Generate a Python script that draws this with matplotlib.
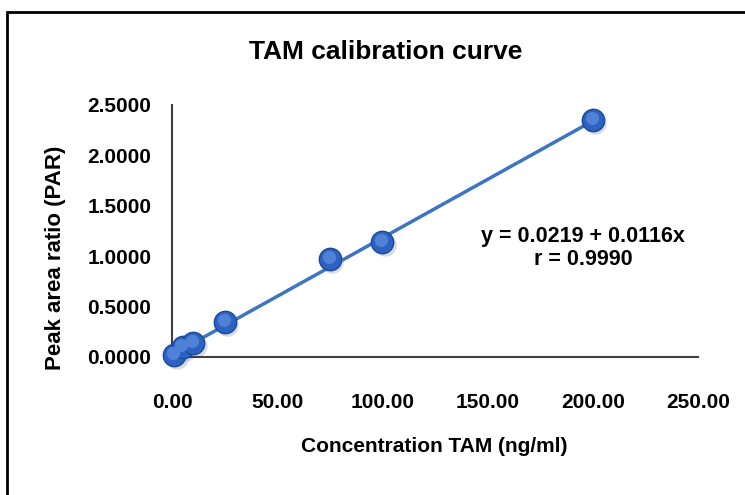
import matplotlib
matplotlib.use("Agg")
import matplotlib.pyplot as plt
from matplotlib.patches import Rectangle

# calibration points
conc = [1, 5, 10, 25, 75, 100, 200]
par = [0.02, 0.10, 0.14, 0.35, 0.97, 1.14, 2.35]
intercept = 0.0219
slope = 0.0116
xticks = [0, 50, 100, 150, 200, 250]
yticks = [0, 0.5, 1.0, 1.5, 2.0, 2.5]

fam = ['Liberation Sans Narrow', 'Liberation Sans', 'DejaVu Sans']
plt.rcParams['font.family'] = fam

fig = plt.figure(figsize=(7.45, 4.95), dpi=100)
ax = fig.add_axes([0.2309, 0.2788, 0.706, 0.5091])

# outer chart frame (runs off right and bottom)
fig.patches.append(Rectangle((7 / 745, -0.2), 1.2, 1 - 12 / 495 + 0.2,
                             transform=fig.transFigure, fill=False,
                             edgecolor='black', linewidth=2, zorder=0))

xl = [min(conc), max(conc)]
ax.plot(xl, [intercept + slope * v for v in xl], color='#3D74C4', lw=2.5, zorder=2)
# soft shadow, ball, highlight
ax.scatter([c + 1.2 for c in conc], [p - 0.03 for p in par], s=260,
           color='#9aa6b8', alpha=0.4, lw=0, zorder=2.5, clip_on=False)
ax.scatter(conc, par, s=260, color='#2D62C2', edgecolor='#1C4A99', lw=1,
           zorder=3, clip_on=False)
ax.scatter([c - 0.5 for c in conc], [p + 0.02 for p in par], s=90,
           color='#4F82D6', lw=0, zorder=4, clip_on=False)

ax.set_xlim(0, 250)
ax.set_ylim(0, 2.5)
ax.set_xticks(xticks)
ax.set_yticks(yticks)
ax.set_xticklabels(['%.2f' % v for v in xticks])
ax.set_yticklabels(['%.4f' % v for v in yticks])
ax.tick_params(length=0, labelsize=15)
ax.tick_params(axis='x', pad=26)
ax.tick_params(axis='y', pad=15)
for lab in ax.get_xticklabels() + ax.get_yticklabels():
    lab.set_fontweight('bold')
for s in ['top', 'right']:
    ax.spines[s].set_visible(False)
for s in ['left', 'bottom']:
    ax.spines[s].set_color('#404040')
    ax.spines[s].set_linewidth(1.5)

fig.text(386 / 745, 1 - 52 / 495, 'TAM calibration curve', ha='center',
         va='center', fontsize=19, fontweight='bold')
fig.text(55 / 745, 1 - 258 / 495, 'Peak area ratio (PAR)', rotation=90,
         ha='center', va='center', fontsize=16, fontweight='bold')
fig.text(434 / 745, 1 - 447 / 495, 'Concentration TAM (ng/ml)', ha='center',
         va='center', fontsize=15, fontweight='bold')
fig.text(583 / 745, 1 - 248 / 495, 'y = 0.0219 + 0.0116x\nr = 0.9990',
         ha='center', va='center', fontsize=15.5, fontweight='bold',
         linespacing=1.1)

fig.savefig('out.png', dpi=100)
